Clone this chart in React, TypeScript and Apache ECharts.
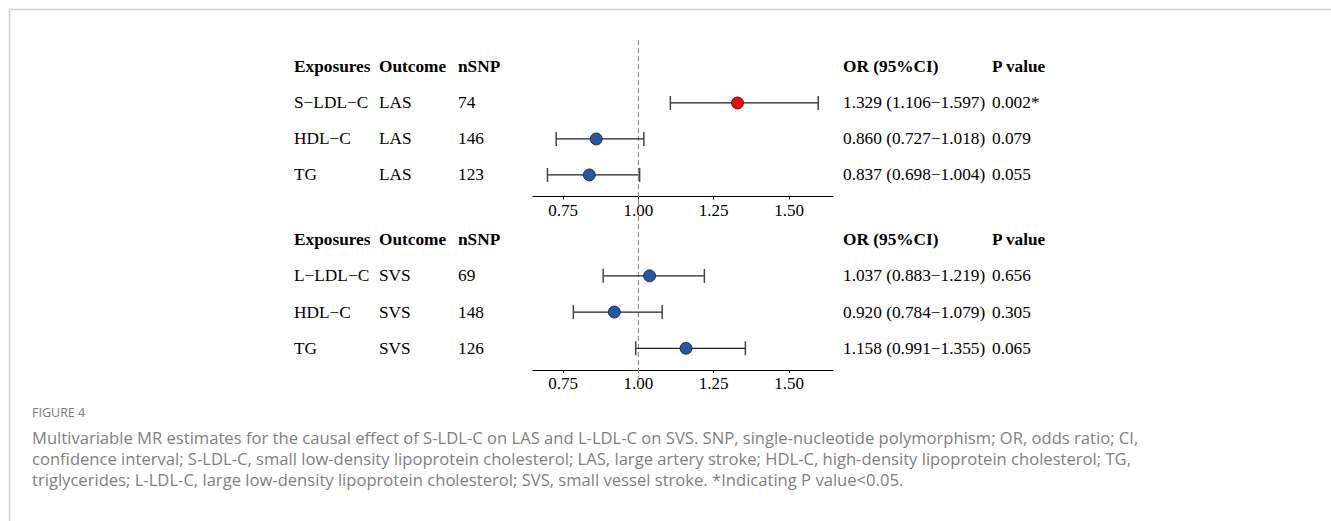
import React, { useEffect, useRef } from "react";
import * as echarts from "echarts";

// ---- Data ----
const headers = ["Exposures", "Outcome", "nSNP", "OR (95%CI)", "P value"];

const lasExposures = ["S−LDL−C", "HDL−C", "TG"];
const lasOutcome = ["LAS", "LAS", "LAS"];
const lasNSNP = [74, 146, 123];
const lasOR = [1.329, 0.86, 0.837];
const lasLower = [1.106, 0.727, 0.698];
const lasUpper = [1.597, 1.018, 1.004];
const lasP = ["0.002*", "0.079", "0.055"];

const svsExposures = ["L−LDL−C", "HDL−C", "TG"];
const svsOutcome = ["SVS", "SVS", "SVS"];
const svsNSNP = [69, 148, 126];
const svsOR = [1.037, 0.92, 1.158];
const svsLower = [0.883, 0.784, 0.991];
const svsUpper = [1.219, 1.079, 1.355];
const svsP = ["0.656", "0.305", "0.065"];

const xTicks = [0.75, 1.0, 1.25, 1.5];
const refValue = 1;

const captionTitle = "FIGURE 4";
const captionLines = [
  "Multivariable MR estimates for the causal effect of S-LDL-C on LAS and L-LDL-C on SVS. SNP, single-nucleotide polymorphism; OR, odds ratio; CI,",
  "confidence interval; S-LDL-C, small low-density lipoprotein cholesterol; LAS, large artery stroke; HDL-C, high-density lipoprotein cholesterol; TG,",
  "triglycerides; L-LDL-C, large low-density lipoprotein cholesterol; SVS, small vessel stroke. *Indicating P value<0.05.",
];

// ---- Layout ----
const SERIF = '"Liberation Serif", "Times New Roman", Times, serif';
const SANS = '"Open Sans", "Noto Sans", sans-serif';
const COLS = [294, 379, 458, 843, 992];
const X_MIN = 0.65;
const X_MAX = 1.646;
const Y_MIN = -0.75;
const Y_MAX = 3.6;
const FS = 17.3;

type Panel = {
  exposures: string[];
  outcome: string[];
  nsnp: number[];
  or: number[];
  lower: number[];
  upper: number[];
  p: string[];
};

const panels: Panel[] = [
  { exposures: lasExposures, outcome: lasOutcome, nsnp: lasNSNP, or: lasOR, lower: lasLower, upper: lasUpper, p: lasP },
  { exposures: svsExposures, outcome: svsOutcome, nsnp: svsNSNP, or: svsOR, lower: svsLower, upper: svsUpper, p: svsP },
];

const fmt3 = (v: number) => v.toFixed(3);

function txt(x: number, y: number, text: string, bold = false) {
  return {
    type: "text",
    x,
    y,
    style: {
      text,
      fill: "#000",
      fontSize: FS,
      fontFamily: SERIF,
      fontWeight: bold ? "bold" : "normal",
      align: "left",
      verticalAlign: "middle",
    },
  };
}

function buildOption() {
  const grids = [
    { left: 533, width: 300, top: 40, height: 156.5 },
    { left: 533, width: 300, top: 212.5, height: 157.5 },
    { left: 533, width: 300, top: 40, height: 352 },
  ];
  const xAxes = [0, 1, 2].map((g) => ({
    type: "value",
    gridIndex: g,
    position: "bottom",
    min: X_MIN,
    max: X_MAX,
    show: g < 2,
    axisLine: { show: true, onZero: false, lineStyle: { color: "#000", width: 1.2 } },
    axisTick: { show: true, customValues: xTicks, length: 3, lineStyle: { color: "#000" } },
    axisLabel: {
      customValues: xTicks,
      formatter: (v: number) => v.toFixed(2),
      color: "#000",
      fontSize: 17,
      fontFamily: SERIF,
      margin: 5,
    },
    splitLine: { show: false },
  }));
  const yAxes = [0, 1, 2].map((g) => ({
    type: "value",
    gridIndex: g,
    min: g < 2 ? Y_MIN : 0,
    max: g < 2 ? Y_MAX : 1,
    inverse: true,
    show: false,
  }));

  const series: any[] = [];
  panels.forEach((pn, pi) => {
    // header row
    series.push({
      type: "custom",
      xAxisIndex: pi,
      yAxisIndex: pi,
      data: [[refValue, 0]],
      encode: { x: 0, y: 1 },
      renderItem: (_params: any, api: any) => {
        const y = api.coord([refValue, 0])[1];
        return { type: "group", children: headers.map((h, k) => txt(COLS[k], y, h, true)) };
      },
      silent: true,
      z: 3,
    });
    // data rows
    series.push({
      type: "custom",
      xAxisIndex: pi,
      yAxisIndex: pi,
      data: pn.or.map((v, i) => [v, i + 1, pn.lower[i], pn.upper[i]]),
      encode: { x: [0, 2, 3], y: 1 },
      renderItem: (params: any, api: any) => {
        const i = params.dataIndex;
        const row = api.value(1);
        const c = api.coord([api.value(0), row]);
        const lo = api.coord([api.value(2), row]);
        const hi = api.coord([api.value(3), row]);
        const y = c[1];
        const sig = pn.p[i].indexOf("*") >= 0;
        return {
          type: "group",
          children: [
            { type: "line", shape: { x1: lo[0], y1: y, x2: hi[0], y2: y }, style: { stroke: "#222", lineWidth: 1.3 } },
            { type: "line", shape: { x1: lo[0], y1: y - 7, x2: lo[0], y2: y + 7 }, style: { stroke: "#444", lineWidth: 1.5 } },
            { type: "line", shape: { x1: hi[0], y1: y - 7, x2: hi[0], y2: y + 7 }, style: { stroke: "#444", lineWidth: 1.5 } },
            {
              type: "circle",
              shape: { cx: c[0], cy: y, r: 6 },
              style: { fill: sig ? "#ff0000" : "#2258a6", stroke: "#1a1a1a", lineWidth: 0.8 },
            },
            txt(COLS[0], y, pn.exposures[i]),
            txt(COLS[1], y, pn.outcome[i]),
            txt(COLS[2], y, String(pn.nsnp[i])),
            txt(COLS[3], y, `${fmt3(pn.or[i])} (${fmt3(pn.lower[i])}−${fmt3(pn.upper[i])})`),
            txt(COLS[4], y, pn.p[i]),
          ],
        };
      },
      silent: true,
      z: 4,
    });
  });

  // reference dashed line
  series.push({
    type: "custom",
    xAxisIndex: 2,
    yAxisIndex: 2,
    data: [[refValue, 0]],
    encode: { x: 0, y: 1 },
    renderItem: (_params: any, api: any) => {
      const a = api.coord([refValue, 0]);
      const b = api.coord([refValue, 1]);
      return {
        type: "line",
        shape: { x1: a[0], y1: a[1], x2: b[0], y2: b[1] },
        style: { stroke: "#8a8a8a", lineWidth: 1.1, lineDash: [5, 3] },
      };
    },
    silent: true,
    z: 2,
  });

  const graphic: any[] = [
    { type: "line", shape: { x1: 9.5, y1: 9.5, x2: 1331, y2: 9.5 }, style: { stroke: "#cfcfcf", lineWidth: 1.5 } },
    { type: "line", shape: { x1: 9.5, y1: 9.5, x2: 9.5, y2: 521 }, style: { stroke: "#cfcfcf", lineWidth: 1.5 } },
    {
      type: "text",
      x: 32,
      y: 412,
      style: { text: captionTitle, fill: "#7a7a7a", fontSize: 12.5, fontFamily: SANS, align: "left", verticalAlign: "middle" },
    },
    ...captionLines.map((line, k) => ({
      type: "text",
      x: 32,
      y: 437 + k * 21,
      style: { text: line, fill: "#7f7f7f", fontSize: 16.6, fontFamily: SANS, align: "left", verticalAlign: "middle" },
    })),
  ];

  return {
    animation: false,
    backgroundColor: "#fff",
    grid: grids,
    xAxis: xAxes,
    yAxis: yAxes,
    series,
    graphic,
  };
}

export default function App() {
  const ref = useRef<HTMLDivElement>(null);
  useEffect(() => {
    document.body.style.margin = "0";
    if (!ref.current) return;
    const chart = echarts.init(ref.current, undefined, { renderer: "svg" });
    chart.setOption(buildOption() as any);
    return () => chart.dispose();
  }, []);
  return <div ref={ref} style={{ width: 1331, height: 521 }} />;
}
